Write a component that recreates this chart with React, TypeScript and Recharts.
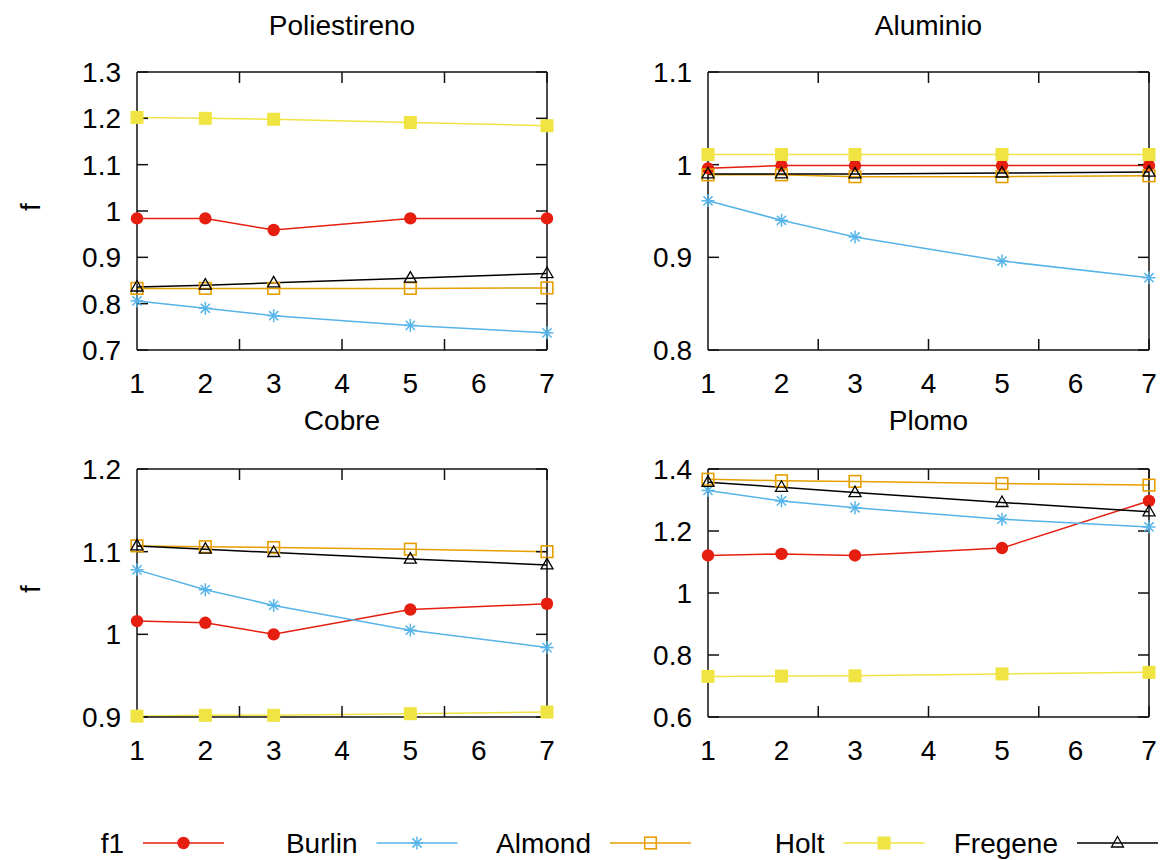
import { LineChart, Line, XAxis, YAxis } from "recharts";

// x positions that were measured, and the tick marks on the x axis
const xValues = [1, 2, 3, 5, 7];
const xTicks = [1, 2, 3, 4, 5, 6, 7];

// Poliestireno
const poliF1 = [0.984, 0.984, 0.959, 0.984, 0.984];
const poliBurlin = [0.806, 0.79, 0.774, 0.753, 0.737];
const poliAlmond = [0.833, 0.833, 0.833, 0.833, 0.834];
const poliHolt = [1.202, 1.2, 1.198, 1.191, 1.184];
const poliFregene = [0.836, 0.84, 0.845, 0.855, 0.865];
const poliTicks = [0.7, 0.8, 0.9, 1, 1.1, 1.2, 1.3];

// Aluminio
const aluF1 = [0.996, 0.999, 0.999, 0.999, 0.999];
const aluBurlin = [0.961, 0.94, 0.922, 0.896, 0.878];
const aluAlmond = [0.989, 0.989, 0.987, 0.987, 0.988];
const aluHolt = [1.011, 1.011, 1.011, 1.011, 1.011];
const aluFregene = [0.99, 0.99, 0.99, 0.991, 0.992];
const aluTicks = [0.8, 0.9, 1, 1.1];

// Cobre
const cuF1 = [1.016, 1.014, 1.0, 1.03, 1.037];
const cuBurlin = [1.078, 1.054, 1.035, 1.005, 0.984];
const cuAlmond = [1.107, 1.106, 1.105, 1.103, 1.1];
const cuHolt = [0.901, 0.902, 0.902, 0.904, 0.906];
const cuFregene = [1.107, 1.103, 1.099, 1.091, 1.084];
const cuTicks = [0.9, 1, 1.1, 1.2];

// Plomo
const pbF1 = [1.121, 1.126, 1.121, 1.145, 1.297];
const pbBurlin = [1.331, 1.297, 1.275, 1.238, 1.213];
const pbAlmond = [1.367, 1.362, 1.36, 1.353, 1.348];
const pbHolt = [0.731, 0.732, 0.733, 0.739, 0.744];
const pbFregene = [1.357, 1.341, 1.324, 1.292, 1.262];
const pbTicks = [0.6, 0.8, 1, 1.2, 1.4];

type MarkerKind = "circle" | "star" | "openSquare" | "square" | "triangle";

const seriesList: { key: string; name: string; color: string; marker: MarkerKind }[] = [
    { key: "f1", name: "f1", color: "#e51e10", marker: "circle" },
    { key: "burlin", name: "Burlin", color: "#56b4e9", marker: "star" },
    { key: "almond", name: "Almond", color: "#e69f00", marker: "openSquare" },
    { key: "holt", name: "Holt", color: "#f0e442", marker: "square" },
    { key: "fregene", name: "Fregene", color: "#000000", marker: "triangle" },
];

const FONT = '"Liberation Sans", Arial, sans-serif';
const FONT_SIZE = 28;
const X_AXIS_H = 40;
const TICK_LEN = 11;
const AXIS_STROKE = { stroke: "#111", strokeWidth: 1.5 };

// tick-mark-only axes still need a tick renderer, so give them an empty one
const noLabel = () => <g />;

function buildRows(f1: number[], burlin: number[], almond: number[], holt: number[], fregene: number[]) {
    return xValues.map((x, i) => ({
        x,
        f1: f1[i],
        burlin: burlin[i],
        almond: almond[i],
        holt: holt[i],
        fregene: fregene[i],
    }));
}

const panels = [
    {
        title: "Poliestireno",
        rows: buildRows(poliF1, poliBurlin, poliAlmond, poliHolt, poliFregene),
        yTicks: poliTicks,
        yLabel: true,
        left: 0, top: 0, width: 580, height: 400,
        plotLeft: 137, plotRight: 547, plotTop: 72, plotBottom: 350,
    },
    {
        title: "Aluminio",
        rows: buildRows(aluF1, aluBurlin, aluAlmond, aluHolt, aluFregene),
        yTicks: aluTicks,
        yLabel: false,
        left: 580, top: 0, width: 582, height: 400,
        plotLeft: 128, plotRight: 569, plotTop: 72, plotBottom: 350,
    },
    {
        title: "Cobre",
        rows: buildRows(cuF1, cuBurlin, cuAlmond, cuHolt, cuFregene),
        yTicks: cuTicks,
        yLabel: true,
        left: 0, top: 400, width: 580, height: 400,
        plotLeft: 137, plotRight: 547, plotTop: 69, plotBottom: 317,
    },
    {
        title: "Plomo",
        rows: buildRows(pbF1, pbBurlin, pbAlmond, pbHolt, pbFregene),
        yTicks: pbTicks,
        yLabel: false,
        left: 580, top: 400, width: 582, height: 400,
        plotLeft: 128, plotRight: 569, plotTop: 69, plotBottom: 317,
    },
];

function Marker({ kind, cx, cy, color }: { kind: MarkerKind; cx: number; cy: number; color: string }) {
    switch (kind) {
        case "circle":
            return <circle cx={cx} cy={cy} r={6.2} fill={color} />;
        case "star": {
            const a = 6.5;
            const d = 4.6;
            return (
                <g stroke={color} strokeWidth={1.5}>
                    <line x1={cx - a} y1={cy} x2={cx + a} y2={cy} />
                    <line x1={cx} y1={cy - a} x2={cx} y2={cy + a} />
                    <line x1={cx - d} y1={cy - d} x2={cx + d} y2={cy + d} />
                    <line x1={cx - d} y1={cy + d} x2={cx + d} y2={cy - d} />
                </g>
            );
        }
        case "openSquare":
            return <rect x={cx - 5.8} y={cy - 5.8} width={11.6} height={11.6} fill="none" stroke={color} strokeWidth={1.6} />;
        case "square":
            return <rect x={cx - 6.5} y={cy - 6.5} width={13} height={13} fill={color} />;
        case "triangle":
        default:
            return (
                <path
                    d={`M${cx},${cy - 6.5} L${cx + 6},${cy + 4} L${cx - 6},${cy + 4} Z`}
                    fill="none"
                    stroke={color}
                    strokeWidth={1.3}
                />
            );
    }
}

function Panel({ p }: { p: (typeof panels)[number] }) {
    const domain: [number, number] = [p.yTicks[0], p.yTicks[p.yTicks.length - 1]];
    const tickStyle = { fill: "#000", fontSize: FONT_SIZE, fontFamily: FONT };
    return (
        <div style={{ position: "absolute", left: p.left, top: p.top }}>
            <LineChart
                width={p.width}
                height={p.height}
                data={p.rows}
                margin={{
                    top: p.plotTop,
                    right: p.width - p.plotRight,
                    bottom: p.height - p.plotBottom - X_AXIS_H,
                    left: 0,
                }}
            >
                {/* labelled axes carry the frame on the left and bottom */}
                <XAxis
                    xAxisId="b"
                    dataKey="x"
                    type="number"
                    domain={[1, 7]}
                    ticks={xTicks}
                    interval={0}
                    height={X_AXIS_H}
                    tickLine={false}
                    tickSize={0}
                    tickMargin={23}
                    axisLine={AXIS_STROKE}
                    tick={tickStyle}
                />
                <YAxis
                    yAxisId="l"
                    type="number"
                    domain={domain}
                    ticks={p.yTicks}
                    interval={0}
                    width={p.plotLeft}
                    tickLine={false}
                    tickSize={0}
                    tickMargin={16}
                    axisLine={AXIS_STROKE}
                    tick={tickStyle}
                    label={
                        p.yLabel
                            ? { value: "f", angle: -90, position: "insideLeft", offset: 30, fill: "#000", fontSize: FONT_SIZE, fontFamily: FONT }
                            : undefined
                    }
                />
                {/* inward tick marks on all four sides, plus top and right frame */}
                <XAxis
                    xAxisId="bi"
                    type="number"
                    domain={[1, 7]}
                    ticks={xTicks}
                    interval={0}
                    orientation="bottom"
                    mirror
                    allowDataOverflow
                    tick={noLabel}
                    tickLine={AXIS_STROKE}
                    tickSize={TICK_LEN}
                    axisLine={false}
                />
                <XAxis
                    xAxisId="t"
                    type="number"
                    domain={[1, 7]}
                    ticks={xTicks}
                    interval={0}
                    orientation="top"
                    mirror
                    allowDataOverflow
                    tick={noLabel}
                    tickLine={AXIS_STROKE}
                    tickSize={TICK_LEN}
                    axisLine={AXIS_STROKE}
                />
                <YAxis
                    yAxisId="li"
                    type="number"
                    domain={domain}
                    ticks={p.yTicks}
                    interval={0}
                    orientation="left"
                    mirror
                    allowDataOverflow
                    tick={noLabel}
                    tickLine={AXIS_STROKE}
                    tickSize={TICK_LEN}
                    axisLine={false}
                />
                <YAxis
                    yAxisId="r"
                    type="number"
                    domain={domain}
                    ticks={p.yTicks}
                    interval={0}
                    orientation="right"
                    mirror
                    allowDataOverflow
                    tick={noLabel}
                    tickLine={AXIS_STROKE}
                    tickSize={TICK_LEN}
                    axisLine={AXIS_STROKE}
                />
                {seriesList.map((s) => (
                    <Line
                        key={s.key}
                        xAxisId="b"
                        yAxisId="l"
                        type="linear"
                        dataKey={s.key}
                        name={s.name}
                        stroke={s.color}
                        strokeWidth={1.5}
                        isAnimationActive={false}
                        activeDot={false}
                        dot={(d: any) => (
                            <Marker key={`${s.key}-${d.index}`} kind={s.marker} cx={d.cx} cy={d.cy} color={s.color} />
                        )}
                    />
                ))}
            </LineChart>
        </div>
    );
}

function LegendRow() {
    const y = 843;
    return (
        <g fontFamily={FONT} fontSize={FONT_SIZE} fill="#000">
            {seriesList.map((s, i) => {
                const textEnd = 124 + i * 233.5;
                const x0 = textEnd + 19;
                const x1 = x0 + 81;
                return (
                    <g key={s.key}>
                        <text x={textEnd} y={y + 10} textAnchor="end">
                            {s.name}
                        </text>
                        <line x1={x0} y1={y} x2={x1} y2={y} stroke={s.color} strokeWidth={1.5} />
                        <Marker kind={s.marker} cx={(x0 + x1) / 2} cy={y} color={s.color} />
                    </g>
                );
            })}
        </g>
    );
}

export default function App() {
    return (
        <div style={{ position: "absolute", left: 0, top: 0, width: 1162, height: 860, background: "#fff" }}>
            {panels.map((p) => (
                <Panel key={p.title} p={p} />
            ))}
            <svg
                width={1162}
                height={860}
                style={{ position: "absolute", left: 0, top: 0, pointerEvents: "none" }}
            >
                {panels.map((p) => (
                    <text
                        key={p.title}
                        x={p.left + (p.plotLeft + p.plotRight) / 2}
                        y={p.top + (p.top === 0 ? 35 : 30)}
                        textAnchor="middle"
                        fontFamily={FONT}
                        fontSize={FONT_SIZE}
                        fill="#000"
                    >
                        {p.title}
                    </text>
                ))}
                <LegendRow />
            </svg>
        </div>
    );
}
